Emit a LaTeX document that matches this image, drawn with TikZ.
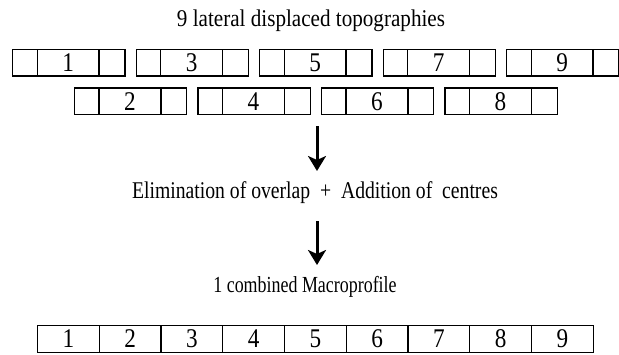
\documentclass[tikz,border=0pt]{standalone}
\usepackage{fontspec}
\setmainfont{Liberation Serif}
\newfontfamily\titleserif[FakeStretch=0.88]{Liberation Serif}
\newfontfamily\stepserif[FakeStretch=0.82]{Liberation Serif}
\newfontfamily\resultserif[FakeStretch=0.78]{Liberation Serif}
\newfontfamily\digitserif[FakeStretch=0.86]{Liberation Serif}
\usetikzlibrary{arrows.meta}

\begin{document}
\begin{tikzpicture}[x=1pt,y=-1pt,
  boxline/.style={line width=1.3pt,draw=black},
  digit/.style={font=\digitserif\fontsize{27}{30}\selectfont,inner sep=0pt},
  caption/.style={anchor=base,inner sep=0pt},
  cell/.style={boxline,minimum width=61.75pt,minimum height=27.5pt,inner sep=0pt,
               font=\digitserif\fontsize{27}{30}\selectfont},
  bigarrow/.style={line width=3pt,-{Stealth[length=15pt,width=18pt,inset=4pt]}}]
\useasboundingbox (0,0) rectangle (619,354);

% heading
\node[caption,font=\titleserif\fontsize{24}{28}\selectfont] (title) at (311,26)
  {9 lateral displaced topographies};

% nine overlapping topographies, odd ones on the upper row
\foreach \k in {1,...,9}{
  \pgfmathsetmacro\L{12.7+(\k-1)*61.75}
  \ifodd\k \def\T{49.5}\else\def\T{88}\fi
  \draw[boxline] (\L,\T) rectangle ++(112.3,26.5);
  \draw[boxline] (\L+24.6,\T) -- ++(0,26.5);
  \draw[boxline] (\L+86.4,\T) -- ++(0,26.5);
  \node[digit] (topo\k) at (\L+55.5,\T+13.5) {\k};
}

% processing step
\coordinate (a1s) at (317,126);
\coordinate (a1e) at (317,171);
\draw[bigarrow] (a1s) -- (a1e);
\node[caption,font=\stepserif\fontsize{24}{28}\selectfont] (step) at (315,198)
  {Elimination of overlap~~+~~Addition of~~centres};
\coordinate (a2s) at (317,221);
\coordinate (a2e) at (317,265);
\draw[bigarrow] (a2s) -- (a2e);

% result
\node[caption,font=\resultserif\fontsize{23}{27}\selectfont] (result) at (305,292)
  {1 combined Macroprofile};
\foreach \k in {1,...,9}{
  \node[cell,draw] (macro\k) at ({37.5+(\k-0.5)*61.75},339) {\k};
}
\end{tikzpicture}
\end{document}
